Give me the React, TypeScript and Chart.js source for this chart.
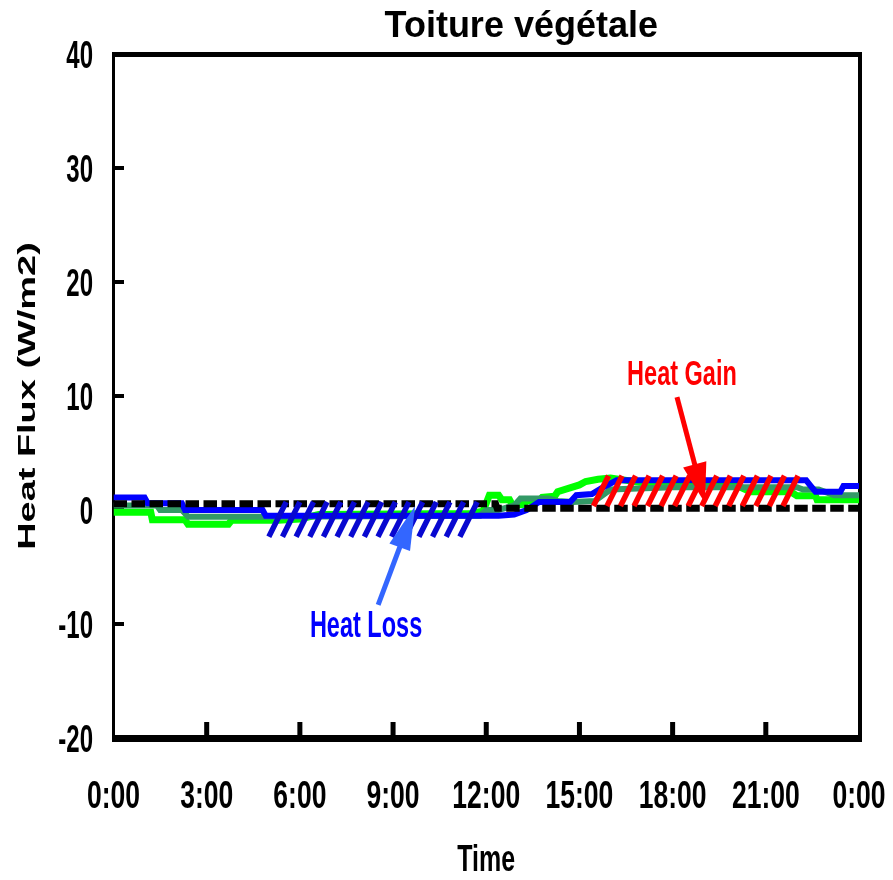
import React, { useEffect, useRef } from 'react';
import { Chart, registerables } from 'chart.js';

Chart.register(...registerables);

// ---------- data ----------
const chartTitle = 'Toiture végétale';
const xAxisTitle = 'Time';
const yAxisTitle = 'Heat Flux (W/m2)';

const xTickHours = [0, 3, 6, 9, 12, 15, 18, 21, 24];
const xTickLabels = ['0:00', '3:00', '6:00', '9:00', '12:00', '15:00', '18:00', '21:00', '0:00'];
const yTickValues = [-20, -10, 0, 10, 20, 30, 40];

const blueHours = [0, 1.0, 1.1, 2.2, 2.3, 4.8, 4.9, 12.4, 12.9, 13.3, 13.7, 14.7, 14.9, 15.4, 15.7, 16.2, 22.3, 22.45, 22.6, 23.4, 23.5, 24];
const blueValues = [1.1, 1.1, 0.6, 0.6, 0, 0, -0.5, -0.5, -0.4, 0, 0.7, 0.7, 1.3, 1.4, 1.9, 2.6, 2.6, 2.1, 1.6, 1.6, 2.1, 2.1];

const greenHours = [0, 1.2, 1.25, 2.3, 2.4, 3.7, 3.8, 5.3, 6.0, 6.6, 11.5, 11.9, 12.1, 12.4, 12.5, 12.75, 12.85, 13.2, 13.3, 13.7, 13.8, 14.2, 14.3, 15.0, 15.2, 15.6, 16.0, 17.0, 18.0, 20.1, 20.5, 21.8, 22.0, 22.6, 22.65, 24];
const greenValues = [-0.2, -0.2, -0.85, -0.85, -1.25, -1.25, -0.9, -0.9, -0.8, -0.4, -0.3, -0.1, 1.3, 1.3, 0.9, 0.9, 0.4, 0.5, 0.8, 0.8, 1.1, 1.2, 1.6, 2.2, 2.5, 2.7, 2.8, 2.4, 2.1, 2.1, 1.6, 1.6, 1.25, 1.25, 0.9, 0.9];

const darkGreenHours = [0, 1.4, 1.5, 2.2, 2.4, 5.0, 11.8, 12.0, 12.4, 12.9, 13.1, 14.0, 14.3, 14.8, 15.5, 16.0, 18.0, 22.0, 22.2, 22.7, 23.2, 24];
const darkGreenValues = [0.4, 0.4, 0, 0, -0.6, -0.6, -0.5, 0, 0, 0.4, 1.0, 1.0, 0.8, 0.7, 0.8, 1.8, 2.0, 2.0, 1.8, 1.8, 1.3, 1.3];

const baselineHours = [0, 12.3, 12.35, 24];
const baselineValues = [0.55, 0.55, 0.15, 0.15];

const lossHatchHours = [5.0, 11.15];
const lossHatchValues = [0.7, -2.35];
const gainHatchHours = [15.45, 21.55];
const gainHatchValues = [3.0, 0.35];

const gainArrowHours = [18.14, 19.04];
const gainArrowValues = [9.91, 0.61];
const lossArrowHours = [8.52, 9.71];
const lossArrowValues = [-8.33, 0.35];

const gainLabel = 'Heat Gain';
const gainLabelPoint = [18.3, 10.96];
const lossLabel = 'Heat Loss';
const lossLabelPoint = [8.13, -11.14];

// ---------- helpers ----------
const FONT = '"Liberation Sans", Arial, Helvetica, sans-serif';

function toPoints(hours: number[], values: number[]) {
  return hours.map((h, i) => ({ x: h, y: values[i] }));
}

function stretchedText(
  ctx: CanvasRenderingContext2D,
  text: string,
  x: number,
  y: number,
  size: number,
  sx: number,
  sy: number,
  align: CanvasTextAlign,
  color: string,
  rotate = 0
) {
  ctx.save();
  ctx.translate(x, y);
  if (rotate) ctx.rotate(rotate);
  ctx.scale(sx, sy);
  ctx.font = `bold ${size}px ${FONT}`;
  ctx.fillStyle = color;
  ctx.textAlign = align;
  ctx.textBaseline = 'alphabetic';
  ctx.fillText(text, 0, 0);
  ctx.restore();
}

function drawHatch(ctx: CanvasRenderingContext2D, xs: any, ys: any, hours: number[], values: number[], color: string) {
  const x0 = xs.getPixelForValue(hours[0]);
  const x1 = xs.getPixelForValue(hours[1]);
  const yTop = ys.getPixelForValue(values[0]);
  const yBot = ys.getPixelForValue(values[1]);
  const shift = (yBot - yTop) * 0.5;
  const n = Math.max(1, Math.round((x1 - x0) / 13.7));
  const step = (x1 - x0) / n;
  ctx.save();
  ctx.strokeStyle = color;
  ctx.lineWidth = 5.5;
  ctx.lineCap = 'butt';
  for (let i = 0; i <= n; i++) {
    const bx = x0 + i * step;
    ctx.beginPath();
    ctx.moveTo(bx, yBot);
    ctx.lineTo(bx + shift, yTop);
    ctx.stroke();
  }
  ctx.restore();
}

function drawArrow(
  ctx: CanvasRenderingContext2D,
  xs: any,
  ys: any,
  hours: number[],
  values: number[],
  color: string,
  headLen: number,
  headW: number
) {
  const x0 = xs.getPixelForValue(hours[0]);
  const y0 = ys.getPixelForValue(values[0]);
  const x1 = xs.getPixelForValue(hours[1]);
  const y1 = ys.getPixelForValue(values[1]);
  const ang = Math.atan2(y1 - y0, x1 - x0);
  const c = Math.cos(ang);
  const s = Math.sin(ang);
  const bx = x1 - headLen * c;
  const by = y1 - headLen * s;
  ctx.save();
  ctx.strokeStyle = color;
  ctx.fillStyle = color;
  ctx.lineWidth = 5;
  ctx.beginPath();
  ctx.moveTo(x0, y0);
  ctx.lineTo(bx + 2 * c, by + 2 * s);
  ctx.stroke();
  ctx.beginPath();
  ctx.moveTo(x1, y1);
  ctx.lineTo(bx - (headW / 2) * s, by + (headW / 2) * c);
  ctx.lineTo(bx + (headW / 2) * s, by - (headW / 2) * c);
  ctx.closePath();
  ctx.fill();
  ctx.restore();
}

const framePlugin = {
  id: 'frameAndDecor',
  beforeDatasetsDraw(chart: any) {
    const ctx: CanvasRenderingContext2D = chart.ctx;
    const { left, right, top, bottom } = chart.chartArea;
    const xs = chart.scales.x;
    const ys = chart.scales.y;
    ctx.save();
    ctx.fillStyle = '#000';
    // frame
    ctx.fillRect(left - 1.5, top - 2, 3, bottom - top + 6);
    ctx.fillRect(left - 1.5, top - 2, right - left + 4.5, 5);
    ctx.fillRect(right - 1, top - 2, 4, bottom - top + 6);
    ctx.fillRect(left - 1.5, bottom - 3, right - left + 4.5, 7);
    // inward tick marks
    xTickHours.slice(1, -1).forEach((h) => {
      const px = xs.getPixelForValue(h);
      ctx.fillRect(px - 2.5, bottom - 16, 5, 13);
    });
    yTickValues.slice(1, -1).forEach((v) => {
      const py = ys.getPixelForValue(v);
      ctx.fillRect(left + 1.5, py - 2, 9, 4);
    });
    ctx.restore();
  },
  afterDatasetsDraw(chart: any) {
    const ctx: CanvasRenderingContext2D = chart.ctx;
    const xs = chart.scales.x;
    const ys = chart.scales.y;
    drawHatch(ctx, xs, ys, lossHatchHours, lossHatchValues, '#0808d0');
    drawHatch(ctx, xs, ys, gainHatchHours, gainHatchValues, '#ff0000');
    drawArrow(ctx, xs, ys, lossArrowHours, lossArrowValues, '#3366ff', 44, 22);
    drawArrow(ctx, xs, ys, gainArrowHours, gainArrowValues, '#ff0000', 40, 24);
    stretchedText(ctx, gainLabel, xs.getPixelForValue(gainLabelPoint[0]), ys.getPixelForValue(gainLabelPoint[1]), 23.5, 1, 1.5, 'center', '#ff0000');
    stretchedText(ctx, lossLabel, xs.getPixelForValue(lossLabelPoint[0]), ys.getPixelForValue(lossLabelPoint[1]), 23.5, 1, 1.55, 'center', '#0000ff');
  },
  afterDraw(chart: any) {
    const ctx: CanvasRenderingContext2D = chart.ctx;
    const { left, right, top, bottom } = chart.chartArea;
    const xs = chart.scales.x;
    const ys = chart.scales.y;
    // x tick labels
    xTickHours.forEach((h, i) => {
      stretchedText(ctx, xTickLabels[i], xs.getPixelForValue(h), bottom + 70, 26.5, 1, 1.45, 'center', '#000');
    });
    // y tick labels
    yTickValues.forEach((v) => {
      stretchedText(ctx, String(v), left - 20.5, ys.getPixelForValue(v) + 13.5, 24, 1, 1.6, 'right', '#000');
    });
    // axis titles
    stretchedText(ctx, xAxisTitle, (left + right) / 2, bottom + 133, 25, 1, 1.45, 'center', '#000');
    stretchedText(ctx, yAxisTitle, 27, (top + bottom) / 2, 24, 1.58, 1, 'center', '#000', -Math.PI / 2);
    // chart title
    stretchedText(ctx, chartTitle, left + 0.547 * (right - left), 29, 36, 1, 1, 'center', '#000');
  },
};

export default function App() {
  const canvasRef = useRef<HTMLCanvasElement | null>(null);

  useEffect(() => {
    if (!canvasRef.current) return;
    const chart = new Chart(canvasRef.current, {
      type: 'line',
      data: {
        datasets: [
          {
            label: 'baseline',
            data: toPoints(baselineHours, baselineValues),
            borderColor: '#000000',
            borderWidth: 7,
            borderDash: [13.5, 4.5],
            order: 0,
          },
          {
            label: 'blue',
            data: toPoints(blueHours, blueValues),
            borderColor: '#0000ff',
            borderWidth: 6,
            order: 1,
          },
          {
            label: 'dark green',
            data: toPoints(darkGreenHours, darkGreenValues),
            borderColor: '#339966',
            borderWidth: 6,
            order: 2,
          },
          {
            label: 'green',
            data: toPoints(greenHours, greenValues),
            borderColor: '#00ff00',
            borderWidth: 7,
            order: 3,
          },
        ],
      },
      options: {
        responsive: false,
        animation: false,
        layout: { padding: { top: 46, right: 26, left: 0, bottom: 0 } },
        plugins: {
          legend: { display: false },
          tooltip: { enabled: false },
          title: { display: false },
        },
        elements: {
          point: { radius: 0, hoverRadius: 0 },
          line: { tension: 0, fill: false, borderCapStyle: 'butt', borderJoinStyle: 'miter' },
        },
        scales: {
          x: {
            type: 'linear',
            min: 0,
            max: 24,
            grid: { display: false, drawTicks: false },
            border: { display: false },
            ticks: { display: false, stepSize: 3 },
            afterFit: (s: any) => {
              s.height = 134;
            },
          },
          y: {
            type: 'linear',
            min: -20,
            max: 40,
            grid: { display: false, drawTicks: false },
            border: { display: false },
            ticks: { display: false, stepSize: 10 },
            afterFit: (s: any) => {
              s.width = 105.5;
            },
          },
        },
      },
      plugins: [framePlugin],
    } as any);
    return () => chart.destroy();
  }, []);

  return (
    <div>
      <canvas ref={canvasRef} width={877} height={864} style={{ display: 'block' }} />
    </div>
  );
}
